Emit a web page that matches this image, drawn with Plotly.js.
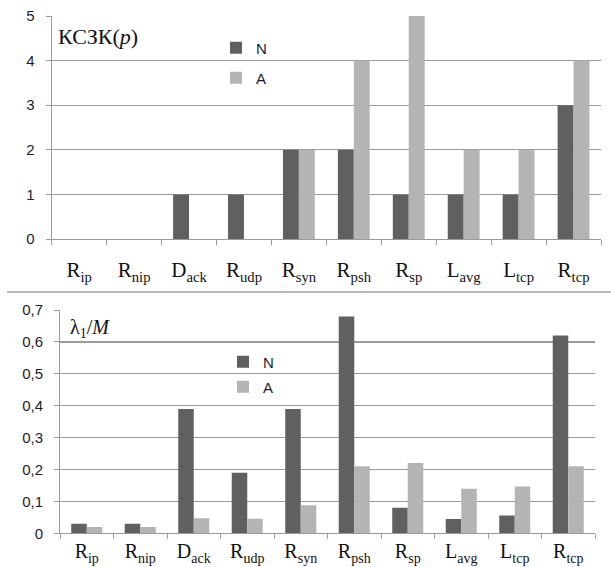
<!DOCTYPE html>
<html>
<head>
<meta charset="utf-8">
<script src="https://cdn.plot.ly/plotly-3.0.1.min.js"></script>
<style>html,body{margin:0;padding:0;background:#fff;}#chart{width:611px;height:567px;}</style>
</head>
<body>
<div id="chart"></div>
<script>
// Category labels (shared by both panels)
const categories = ["R<sub>ip</sub>", "R<sub>nip</sub>", "D<sub>ack</sub>", "R<sub>udp</sub>", "R<sub>syn</sub>",
                    "R<sub>psh</sub>", "R<sub>sp</sub>", "L<sub>avg</sub>", "L<sub>tcp</sub>", "R<sub>tcp</sub>"];
const seriesNames = ["N", "A"];

// Top panel: КСЗК(p)
const topN = [0, 0, 1, 1, 2, 2, 1, 1, 1, 3];
const topA = [0, 0, 0, 0, 2, 4, 5, 2, 2, 4];
const topTicks = [0, 1, 2, 3, 4, 5];

// Bottom panel: λ1/M
const botN = [0.03, 0.03, 0.39, 0.19, 0.39, 0.68, 0.08, 0.045, 0.056, 0.62];
const botA = [0.02, 0.02, 0.047, 0.046, 0.088, 0.21, 0.22, 0.14, 0.147, 0.21];
const botTicks = [0, 0.1, 0.2, 0.3, 0.4, 0.5, 0.6, 0.7];
const botTickText = ["0", "0,1", "0,2", "0,3", "0,4", "0,5", "0,6", "0,7"];

const colN = "#606060";
const colA = "#b4b4b4";
const W = 611, H = 567;
const px = v => v / W;
const py = v => 1 - v / H;

const traces = [
  {type: "bar", x: categories, y: topN, name: seriesNames[0], marker: {color: colN}, xaxis: "x", yaxis: "y", legend: "legend"},
  {type: "bar", x: categories, y: topA, name: seriesNames[1], marker: {color: colA}, xaxis: "x", yaxis: "y", legend: "legend2"},
  {type: "bar", x: categories, y: botN, name: seriesNames[0], marker: {color: colN}, xaxis: "x2", yaxis: "y2", legend: "legend3"},
  {type: "bar", x: categories, y: botA, name: seriesNames[1], marker: {color: colA}, xaxis: "x2", yaxis: "y2", legend: "legend4"}
];

const tickFont = {family: "Liberation Sans, Arial, sans-serif", size: 15, color: "#1c1c30"};
const catFont = {family: "Liberation Serif, Times New Roman, serif", size: 21, color: "#111"};
const catFont2 = {family: "Liberation Serif, Times New Roman, serif", size: 20, color: "#111"};
const legFont = {family: "Liberation Sans, Arial, sans-serif", size: 15, color: "#1c1c30"};

function leg(x, y) {
  return {x: px(x), y: py(y), xanchor: "left", yanchor: "middle", bgcolor: "rgba(0,0,0,0)",
          borderwidth: 0, font: legFont, itemclick: false, tracegroupgap: 0};
}

const xcommon = {
  type: "category", showline: true, linecolor: "#9a9a9a", linewidth: 1,
  ticks: "outside", tickson: "boundaries", ticklen: 5, tickcolor: "#9a9a9a",
  showgrid: false, fixedrange: true
};
const ycommon = {
  showline: true, linecolor: "#9a9a9a", linewidth: 1, ticks: "outside", ticklen: 5, tickcolor: "#9a9a9a",
  showgrid: true, gridcolor: "#9a9a9a", gridwidth: 1.3, zeroline: false, tickfont: tickFont,
  fixedrange: true, ticklabelstandoff: 8
};

const layout = {
  width: W, height: H,
  margin: {l: 0, r: 0, t: 0, b: 0},
  paper_bgcolor: "#fff", plot_bgcolor: "#fff",
  barmode: "group", bargap: 0.42, bargroupgap: 0,
  showlegend: true,
  legend: leg(216, 48),
  legend2: leg(216, 78),
  legend3: leg(223, 362),
  legend4: leg(223, 387),
  xaxis: Object.assign({}, xcommon, {domain: [px(51.7), px(601)], anchor: "y", ticklabelstandoff: 12, tickfont: catFont}),
  yaxis: Object.assign({}, ycommon, {domain: [py(239), py(16)], range: [0, 5], tickvals: topTicks, anchor: "x"}),
  xaxis2: Object.assign({}, xcommon, {domain: [px(60), px(595)], anchor: "y2", ticklabelstandoff: 0, tickfont: catFont2}),
  yaxis2: Object.assign({}, ycommon, {domain: [py(533.3), py(310)], range: [0, 0.7], tickvals: botTicks, ticktext: botTickText, anchor: "x2"}),
  annotations: [
    {text: "КСЗК(<i>p</i>)", xref: "paper", yref: "paper", x: px(56), y: py(37), xanchor: "left", yanchor: "middle",
     showarrow: false, font: {family: "Liberation Serif, Times New Roman, serif", size: 22, color: "#111"}},
    {text: "λ<sub>1</sub>/<i>M</i>", xref: "paper", yref: "paper", x: px(68), y: py(328), xanchor: "left", yanchor: "middle",
     showarrow: false, font: {family: "Liberation Serif, Times New Roman, serif", size: 20, color: "#111"}}
  ],
  shapes: [
    {type: "line", xref: "paper", yref: "paper", x0: px(7), x1: 1, y0: py(292), y1: py(292),
     line: {color: "#a0a0a0", width: 1.3}}
  ]
};

Plotly.newPlot("chart", traces, layout, {displayModeBar: false, staticPlot: true});
</script>
</body>
</html>
